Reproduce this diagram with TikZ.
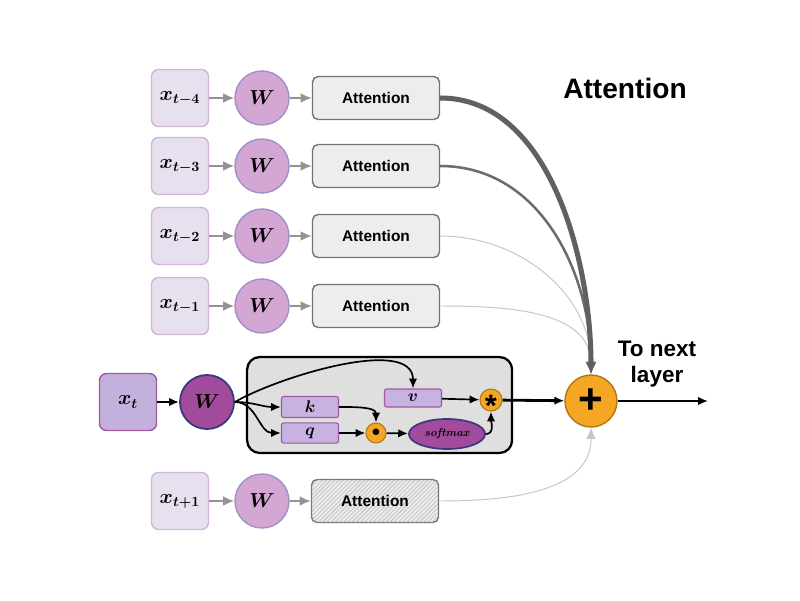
\documentclass[tikz,border=0pt]{standalone}
\usepackage{fontspec}
\usepackage{bm}
\newfontfamily\arial{Liberation Sans}
\usetikzlibrary{patterns,arrows.meta,shapes.geometric}
\definecolor{xfond}{HTML}{E7E0EF}
\definecolor{xbord}{HTML}{D2B6DA}
\definecolor{xtfond}{HTML}{C4B0DC}
\definecolor{xtbord}{HTML}{A05AA0}
\definecolor{wfond}{HTML}{D4A6D4}
\definecolor{wbord}{HTML}{A090C8}
\definecolor{wtfond}{HTML}{A24A9C}
\definecolor{wtbord}{HTML}{3A3A7A}
\definecolor{orange}{HTML}{F5A623}
\definecolor{orbord}{HTML}{B07818}
\definecolor{kqvfond}{HTML}{C8B2E2}
\begin{document}
\begin{tikzpicture}
		\useasboundingbox (0,0) rectangle (20,15);
		\tikzstyle{entree}=[minimum size=1.425cm, rounded corners=5pt, draw=xbord, fill=xfond, line width=1pt, font=\Large\boldmath]
		\tikzstyle{poids}=[circle, minimum size=1.35cm, draw=wbord, fill=wfond, line width=1pt, font=\Large\boldmath]
		\tikzstyle{attn}=[minimum width=3.175cm, minimum height=1.075cm, rounded corners=4pt, draw=gray!90!black, fill=gray!14, line width=1pt, font=\arial\bfseries\fontsize{11}{13}\selectfont]
		\tikzstyle{kqv}=[minimum width=1.425cm, minimum height=0.45cm, rounded corners=1.5pt, draw=xtbord, fill=kqvfond, line width=0.8pt, font=\large\boldmath]
		\tikzstyle{op}=[circle, draw=orbord, fill=orange, line width=0.8pt, inner sep=0pt]
		\tikzstyle{fleche_grise}=[draw=gray!85, line width=1.4pt, -{Latex[length=8pt,width=7pt]}]
		\tikzstyle{fleche}=[draw=black, line width=1.2pt, -{Latex[length=7pt,width=6pt]}]
		% entrees precedentes
		\node[entree] (x4) at (4.5,12.55) {$x_{t-4}$};
		\node[entree] (x3) at (4.5,10.85) {$x_{t-3}$};
		\node[entree] (x2) at (4.5,9.1) {$x_{t-2}$};
		\node[entree] (x1) at (4.5,7.35) {$x_{t-1}$};
		\node[entree, fill=xtfond, draw=xtbord] (xt) at (3.2,4.95) {$x_t$};
		\node[entree] (xs) at (4.5,2.475) {$x_{t+1}$};
		\node[poids] (w4) at (6.55,12.55) {$W$};
		\node[poids] (w3) at (6.55,10.85) {$W$};
		\node[poids] (w2) at (6.55,9.1) {$W$};
		\node[poids] (w1) at (6.55,7.35) {$W$};
		\node[poids, fill=wtfond, draw=wtbord, line width=1.3pt] (wt) at (5.175,4.95) {$W$};
		\node[poids] (ws) at (6.55,2.475) {$W$};
		\node[attn] (a4) at (9.4,12.55) {Attention};
		\node[attn] (a3) at (9.4,10.85) {Attention};
		\node[attn] (a2) at (9.4,9.1) {Attention};
		\node[attn] (a1) at (9.4,7.35) {Attention};
		\node[attn, fill=gray!15, postaction={pattern=north east lines, pattern color=gray!55}] (as) at (9.375,2.475) {Attention};
		% bloc courant
		\node[minimum width=6.625cm, minimum height=2.4cm, rounded corners=9pt, draw=black, fill=gray!25, line width=1.6pt] (bloc) at (9.49,4.875) {};
		\node[kqv] (k) at (7.75,4.825) {$k$};
		\node[kqv] (q) at (7.75,4.175) {$q$};
		\node[kqv] (v) at (10.325,5.05) {$v$};
		\node[op, minimum size=0.5cm, font=\large] (pt) at (9.4,4.175) {$\bullet$};
		\node[ellipse, minimum width=1.65cm, minimum height=0.75cm, draw=wtbord, fill=wtfond, line width=1.2pt, font=\fontsize{8}{9}\selectfont\bfseries\itshape] (sm) at (11.175,4.15) {softmax};
		\node[op, minimum size=0.55cm, font=\arial\bfseries\fontsize{22}{22}\selectfont] (et) at (12.275,5.0) {\raisebox{-12pt}[0pt][0pt]{*}};
		\node[op, minimum size=1.3cm, line width=1pt, font=\arial\bfseries\fontsize{30}{30}\selectfont] (plus) at (14.775,4.975) {+};
		\coordinate (sortie) at (17.7,4.975);
		% textes
		\node[font=\arial\bfseries\fontsize{20}{24}\selectfont] (titre) at (15.625,12.8) {Attention};
		\node[font=\arial\bfseries\fontsize{16}{19}\selectfont, align=center] (suite) at (16.425,5.9) {To next\\layer};
		% fleches grises
		\draw[fleche_grise] (x4) -- (w4);
		\draw[fleche_grise] (x3) -- (w3);
		\draw[fleche_grise] (x2) -- (w2);
		\draw[fleche_grise] (x1) -- (w1);
		\draw[fleche_grise] (xs) -- (ws);
		\draw[fleche_grise] (w4) -- (a4);
		\draw[fleche_grise] (w3) -- (a3);
		\draw[fleche_grise] (w2) -- (a2);
		\draw[fleche_grise] (w1) -- (a1);
		\draw[fleche_grise] (ws) -- (as);
		% poids de l'attention
		\draw[gray!45, line width=0.7pt, -{Latex[length=8pt,width=7pt]}] (a2.east) to[out=0, in=90] (plus.north);
		\draw[gray!45, line width=0.7pt, -{Latex[length=8pt,width=7pt]}] (a1.east) to[out=0, in=90] (plus.north);
		\draw[gray!45, line width=0.7pt, -{Latex[length=8pt,width=7pt]}] (as.east) to[out=0, in=-90] (plus.south);
		\draw[gray!85!black, line width=1.8pt, -{Latex[length=9pt,width=8pt]}] (a3.east) to[out=0, in=90] (plus.north);
		\draw[gray!75!black, line width=3.6pt, -{Latex[length=8pt,width=7pt]}] (a4.east) to[out=0, in=90, looseness=0.9] (plus.north);
		% chemin courant
		\draw[fleche, line width=1.6pt] (xt) -- (wt);
		\draw[fleche] (wt.east) to[out=0, in=180] (k.west);
		\draw[fleche] (wt.east) to[out=0, in=180] (q.west);
		\draw[fleche] (wt.east) to[out=30, in=90, looseness=0.75] (v.north);
		\draw[fleche] (k.east) to[out=0, in=90] (pt.north);
		\draw[fleche] (q) -- (pt);
		\draw[fleche] (pt) -- (sm);
		\draw[fleche] (sm.east) to[out=0, in=-90] (et.south);
		\draw[fleche] (v) -- (et);
		\draw[fleche, line width=2pt] (et) -- (plus);
		\draw[fleche] (plus) -- (sortie);
	\end{tikzpicture}
\end{document}
